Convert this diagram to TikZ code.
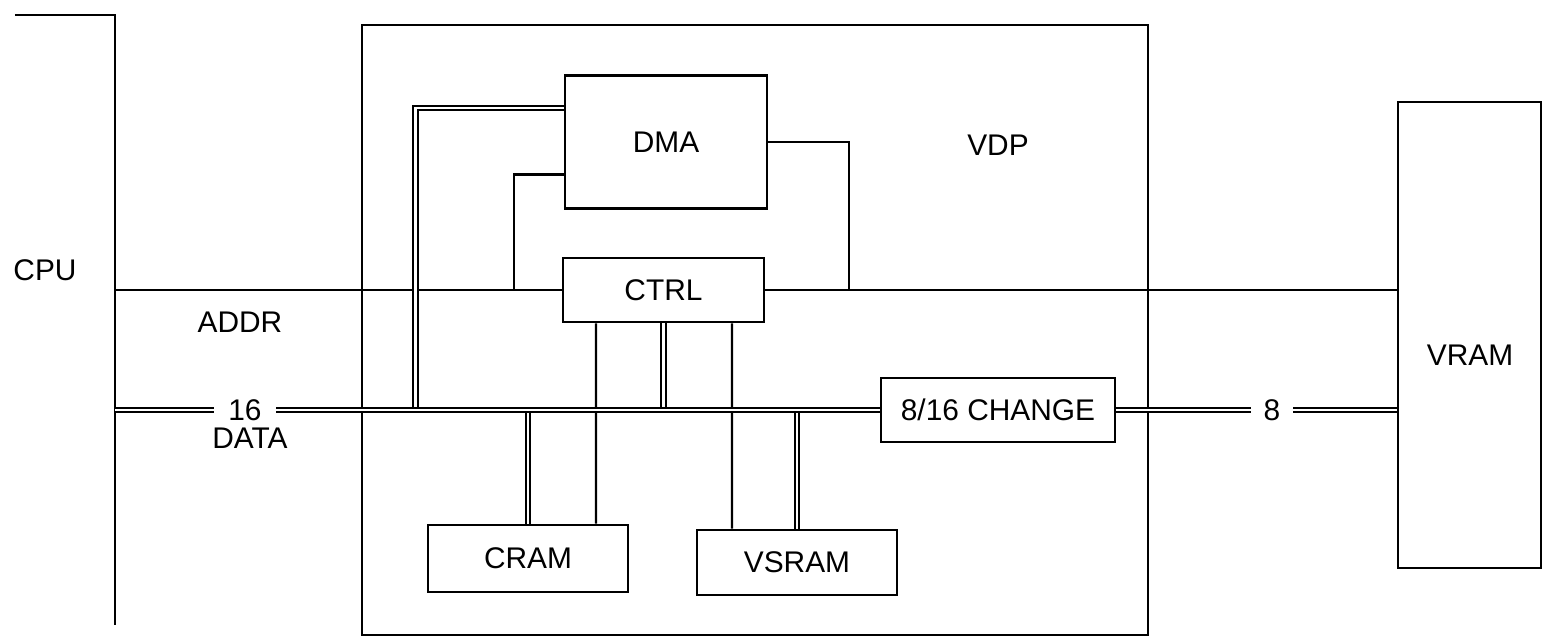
\documentclass[tikz,border=0pt]{standalone}
\usepackage{fontspec}
\setmainfont{Liberation Sans}

\begin{document}
\begin{tikzpicture}[every node/.style={font=\fontsize{8.5}{10}\selectfont},
  blk/.style={draw, line width=0.8pt, inner sep=0pt},
  wire/.style={line width=0.6pt},
  bus/.style={double, double distance=0.6pt, line width=0.65pt}]
\useasboundingbox (0,0) rectangle (15.43,6.42);

\node[blk, minimum width=7.86cm, minimum height=6.10cm] (vdp) at (7.55,3.12) {};
\node[blk, minimum width=2.02cm, minimum height=1.33cm] (dma) at (6.66,5.00) {DMA};
\node[blk, minimum width=2.01cm, minimum height=0.64cm] (ctrl) at (6.635,3.52) {CTRL};
\node[blk, minimum width=2.34cm, minimum height=0.64cm] (chg) at (9.98,2.32) {8/16 CHANGE};
\node[blk, minimum width=2.00cm, minimum height=0.67cm] (cram) at (5.28,0.835) {CRAM};
\node[blk, minimum width=2.00cm, minimum height=0.65cm] (vsram) at (7.97,0.795) {VSRAM};
\node[blk, minimum width=1.43cm, minimum height=4.66cm] (vram) at (14.695,3.07) {};

\node (cpulbl) at (0.45,3.72) {CPU};
\node (vdplbl) at (9.98,4.97) {VDP};
\node (vramlbl) at (14.70,2.87) {VRAM};
\node (addr) at (2.40,3.20) {ADDR};
\node (data) at (2.50,2.04) {DATA};
\node[inner sep=4pt] (n16) at (2.45,2.32) {16};
\node[inner sep=3.5pt] (n8) at (12.72,2.32) {8};

\coordinate (cputop) at (0.15,6.27);
\coordinate (cpucorner) at (1.15,6.27);
\coordinate (cpubot) at (1.15,0.17);
\coordinate (cpuA) at (1.15,3.52);
\coordinate (cpuD) at (1.15,2.32);
\coordinate (tapA) at (5.14,3.52);
\coordinate (tapD) at (4.155,2.32);
\coordinate (tapC) at (8.49,3.52);

\draw[wire] (cputop) -- (cpucorner) -- (cpubot);
\draw[wire] (cpuA) -- (ctrl.west);
\draw[wire] (ctrl.east) -- (ctrl.east -| vram.west);
\draw[thick] ([yshift=3.5mm]dma.south west) -| (tapA);
\draw[wire] (dma.east) -| (tapC);
\draw[wire] ([xshift=-6.75mm]ctrl.south) -- ([xshift=6.8mm]cram.north);
\draw[wire] ([xshift=6.85mm]ctrl.south) -- ([xshift=-6.5mm]vsram.north);

\draw[bus] ([yshift=3.4mm]dma.west) -| (tapD);
\draw[bus] (ctrl.south) -- (ctrl.south |- tapD);
\draw[bus] (cram.north |- tapD) -- (cram.north);
\draw[bus] (vsram.north |- tapD) -- (vsram.north);
\draw[bus] (cpuD) -- (n16) -- (chg.west);
\draw[bus] (chg.east) -- (n8) -- (n8 -| vram.west);
\end{tikzpicture}
\end{document}
